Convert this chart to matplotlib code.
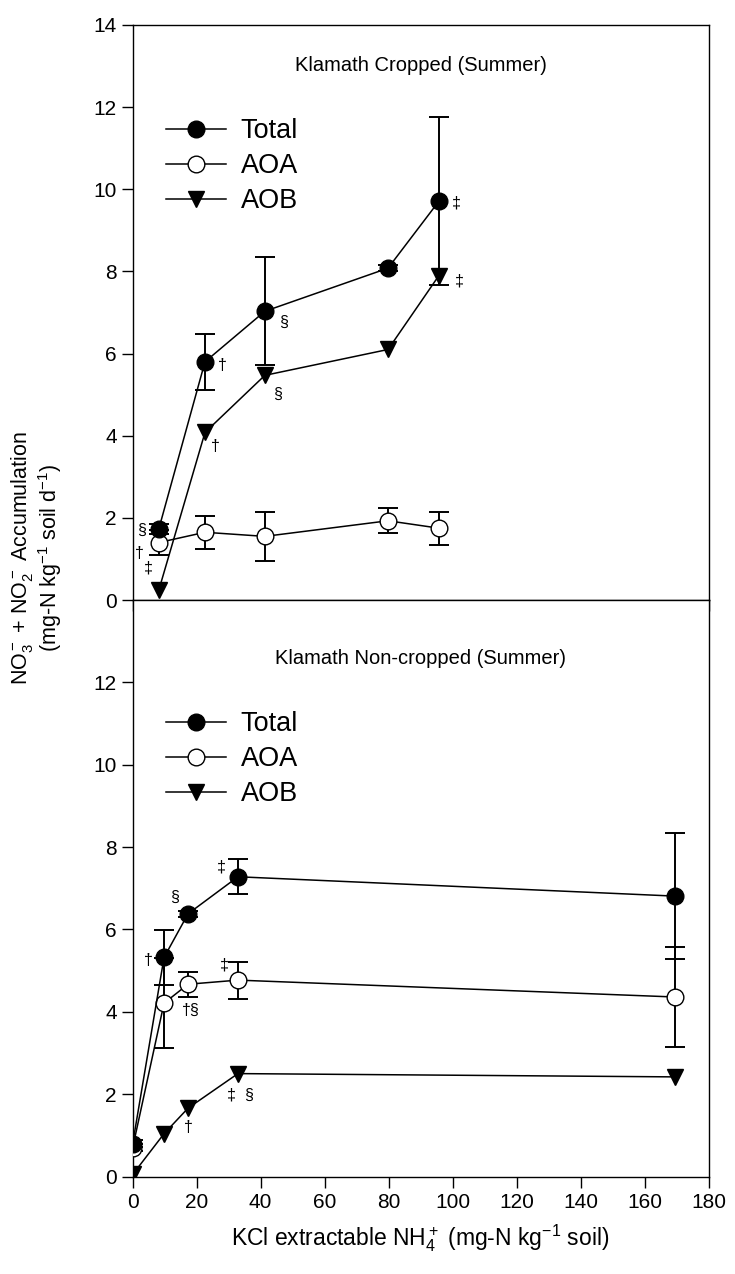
import numpy as np
import matplotlib.pyplot as plt

plt.rcParams['font.family'] = ['Liberation Sans', 'DejaVu Sans']
plt.rcParams['mathtext.fontset'] = 'custom'
plt.rcParams['mathtext.rm'] = 'Liberation Sans'
plt.rcParams['mathtext.it'] = 'Liberation Sans'
plt.rcParams['mathtext.default'] = 'regular'

# --- Klamath cropped (summer) ---
crop_nh4 = [8.2, 22.6, 41.3, 79.8, 95.7]
crop_total = [1.74, 5.80, 7.03, 8.08, 9.71]
crop_total_se = [0.12, 0.68, 1.31, 0.08, 2.05]
crop_aoa = [1.40, 1.65, 1.55, 1.93, 1.75]
crop_aoa_se = [0.30, 0.40, 0.60, 0.30, 0.40]
crop_aob = [0.25, 4.08, 5.47, 6.10, 7.90]
crop_marks = [('§', 2.9, 1.70), ('†', 2.0, 1.14), ('‡', 4.8, 0.78),
              ('†', 27.9, 5.72), ('§', 47.0, 6.76), ('†', 25.7, 3.75),
              ('§', 45.1, 5.01), ('‡', 101.0, 9.66), ('‡', 102.0, 7.76)]

# --- Klamath non-cropped (summer) ---
non_nh4 = [0.0, 9.8, 17.3, 32.9, 169.5]
non_total = [0.80, 5.32, 6.38, 7.28, 6.81]
non_total_se = [0.08, 0.67, 0.08, 0.42, 1.53]
non_aoa = [0.70, 4.21, 4.67, 4.77, 4.36]
non_aoa_se = [0.08, 1.09, 0.30, 0.45, 1.21]
non_aob = [0.05, 1.04, 1.66, 2.50, 2.42]
non_marks = [('†', 4.8, 5.25), ('§', 13.2, 6.78), ('‡', 27.6, 7.51),
             ('‡', 28.8, 5.13), ('†§', 18.2, 4.04), ('‡', 30.7, 1.98),
             ('§', 36.3, 1.98), ('†', 17.3, 1.18)]

fig = plt.figure(figsize=(7.35, 12.74), dpi=100)
ax_top = fig.add_axes([0.1805, 0.529, 0.7837, 0.4514])
ax_bot = fig.add_axes([0.1805, 0.0765, 0.7837, 0.4525])


def draw_panel(ax, x, tot, tot_se, aoa, aoa_se, aob, marks, title, title_y, leg_y):
    ebkw = dict(fmt='none', ecolor='black', elinewidth=1.4, capsize=7, capthick=1.4)
    ax.errorbar(x, aoa, yerr=aoa_se, zorder=2, **ebkw)
    ax.errorbar(x, tot, yerr=tot_se, zorder=2, **ebkw)
    l_tot, = ax.plot(x, tot, '-o', color='black', lw=1.1, ms=12, mfc='black',
                     mec='black', label='Total', zorder=5)
    l_aoa, = ax.plot(x, aoa, '-o', color='black', lw=1.1, ms=12, mfc='white',
                     mec='black', mew=1.0, label='AOA', zorder=4)
    l_aob, = ax.plot(x, aob, '-v', color='black', lw=1.1, ms=11, mfc='black',
                     mec='black', label='AOB', zorder=3)
    for s, tx, ty in marks:
        ax.text(tx, ty, s, fontsize=11.5, ha='center', va='center', zorder=6)
    ax.text(0.5, title_y, title, transform=ax.transAxes, ha='center', va='center',
            fontsize=14.5)
    ax.legend([l_tot, l_aoa, l_aob], ['Total', 'AOA', 'AOB'], loc='upper left',
              bbox_to_anchor=(0.058, leg_y), frameon=False, fontsize=19.5,
              handlelength=2.2, handletextpad=0.55, labelspacing=0.33,
              borderaxespad=0, borderpad=0)
    ax.set_xlim(0, 180)
    ax.set_ylim(0, 14)
    ax.set_xticks(np.arange(0, 181, 20))
    ax.tick_params(direction='out', length=8, width=1.0, labelsize=15)
    for sp in ax.spines.values():
        sp.set_linewidth(1.0)


draw_panel(ax_top, crop_nh4, crop_total, crop_total_se, crop_aoa, crop_aoa_se,
           crop_aob, crop_marks, 'Klamath Cropped (Summer)', 0.93, 0.838)
draw_panel(ax_bot, non_nh4, non_total, non_total_se, non_aoa, non_aoa_se,
           non_aob, non_marks, 'Klamath Non-cropped (Summer)', 0.899, 0.807)

ax_top.set_yticks(np.arange(0, 15, 2))
ax_top.tick_params(axis='x', labelbottom=False)
ax_bot.set_yticks(np.arange(0, 13, 2))

ax_bot.set_xlabel('KCl extractable NH$_4^+$ (mg-N kg$^{-1}$ soil)', fontsize=16.5, labelpad=8)

fig.text(0.030, 0.562, 'NO$_3^-$ + NO$_2^-$ Accumulation', rotation=90,
         ha='center', va='center', fontsize=15.5)
fig.text(0.068, 0.562, '(mg-N kg$^{-1}$ soil d$^{-1}$)', rotation=90,
         ha='center', va='center', fontsize=15.5)

fig.savefig('out.png', dpi=100)
